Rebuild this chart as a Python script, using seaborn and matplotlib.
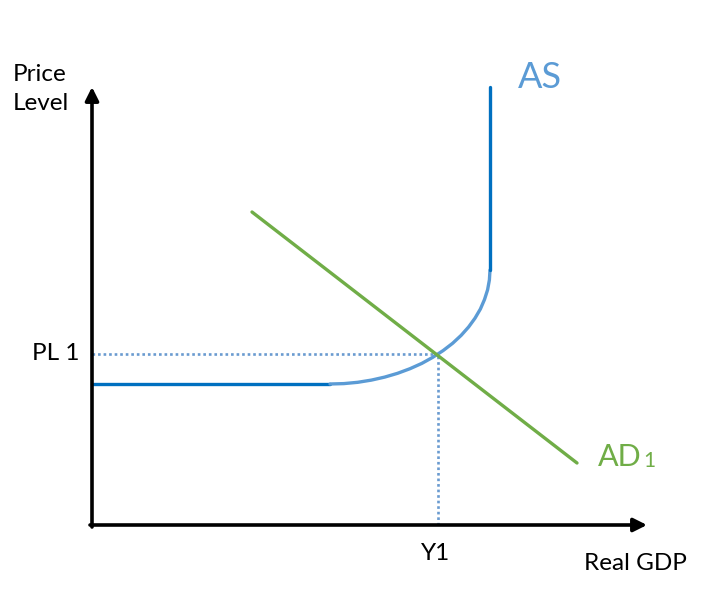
import matplotlib
matplotlib.use("Agg")
import matplotlib.pyplot as plt
import seaborn as sns

# coordinates measured from the axis corner (x right, y up)
as_flat_x = [0, 238]
as_flat_y = [141, 141]
as_curve_x = [238, 251.9, 265.8, 279.4, 292.7, 305.6, 318, 329.8, 340.8, 351.1,
              360.6, 369.1, 376.6, 383, 388.4, 392.5, 395.6, 397.4, 398]
as_curve_y = [141, 141.4, 142.7, 144.9, 147.9, 151.7, 156.3, 161.6, 167.7, 174.4,
              181.7, 189.6, 198, 206.8, 216, 225.5, 235.2, 245.1, 255]
as_vert_x = [398, 398]
as_vert_y = [255, 438]
ad_x = [160, 485]
ad_y = [313, 62]
eq_x = 346   # Y1
eq_y = 171   # PL 1
axis_x_end = 555
axis_y_end = 438

DARK_BLUE = "#0070C0"
LIGHT_BLUE = "#5B9BD5"
GREEN = "#70AD47"
DOT = "#6A9BD0"

sns.set_theme(style="white")
plt.rcParams['font.family'] = ['Lato', 'DejaVu Sans']

fig = plt.figure(figsize=(7.14, 5.96), dpi=100)
ax = fig.add_axes([0, 0, 1, 1])
ax.set_xlim(-92, 622)
ax.set_ylim(-71, 525)
ax.axis("off")

lw = 2.4
# dotted guides
ax.plot([0, eq_x], [eq_y, eq_y], color=DOT, lw=1.9, ls=(0, (1, 1.1)))
ax.plot([eq_x, eq_x], [0, eq_y], color=DOT, lw=1.9, ls=(0, (1, 1.1)))

line_kw = dict(ax=ax, lw=lw, sort=False, estimator=None)
sns.lineplot(x=as_flat_x, y=as_flat_y, color=DARK_BLUE, **line_kw)
sns.lineplot(x=as_curve_x, y=as_curve_y, color=LIGHT_BLUE, **line_kw)
sns.lineplot(x=as_vert_x, y=as_vert_y, color=DARK_BLUE, **line_kw)
sns.lineplot(x=ad_x, y=ad_y, color=GREEN, **line_kw)

# axes with arrows
arrow = dict(arrowstyle="-|>", color="black", lw=2.6, mutation_scale=20,
             shrinkA=0, shrinkB=0)
ax.annotate("", xy=(0, axis_y_end), xytext=(0, -2), arrowprops=arrow)
ax.annotate("", xy=(axis_x_end, 0), xytext=(-2, 0), arrowprops=arrow)

ax.text(-79, 436, "Price\nLevel", fontsize=17.5, ha="left", va="center",
        linespacing=1.5, color="black")
ax.text(-13, eq_y + 1, "PL 1", fontsize=17.5, ha="right", va="center", color="black")
ax.text(eq_x - 2, -28, "Y1", fontsize=17.5, ha="center", va="center", color="black")
ax.text(492, -38, "Real GDP", fontsize=17.5, ha="left", va="center", color="black")
ax.text(426, 448, "AS", fontsize=26, ha="left", va="center", color=LIGHT_BLUE)
ax.text(506, 68, "AD", fontsize=22, ha="left", va="center", color=GREEN)
ax.text(551, 64, "1", fontsize=15, ha="left", va="center", color=GREEN)

fig.savefig("out.png", dpi=100)
